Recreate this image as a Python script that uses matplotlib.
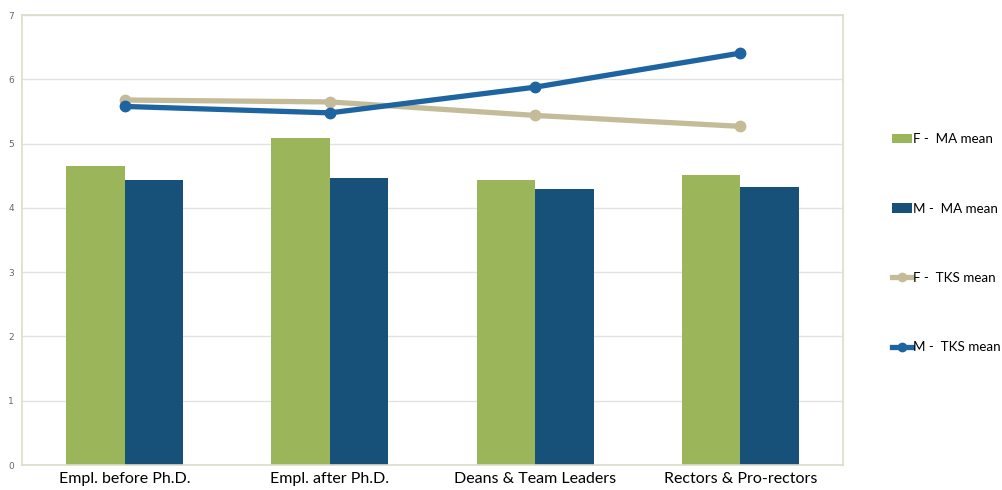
import matplotlib.pyplot as plt
import numpy as np

# ------  data  ------
categories = ['Empl. before Ph.D.', 'Empl. after Ph.D.', 'Deans & Team Leaders', 'Rectors & Pro-rectors']
f_ma = [4.65, 5.09, 4.43, 4.52]
m_ma = [4.44, 4.46, 4.29, 4.32]
f_tks = [5.68, 5.65, 5.44, 5.27]
m_tks = [5.58, 5.48, 5.88, 6.41]

green = '#9bb55a'
navy = '#17517a'
beige = '#c4bc98'
blue = '#1e64a0'

fig = plt.figure(figsize=(10.03, 4.9), dpi=100)
ax = fig.add_axes([0.022, 0.051, 0.8185, 0.918])

x = np.arange(len(categories))
w = 0.285
b1 = ax.bar(x - w / 2, f_ma, w, color=green, label='F -  MA mean', zorder=2)
b2 = ax.bar(x + w / 2, m_ma, w, color=navy, label='M -  MA mean', zorder=2)
l1, = ax.plot(x, f_tks, color=beige, lw=3.8, marker='o', ms=7.5, label='F -  TKS mean', zorder=3)
l2, = ax.plot(x, m_tks, color=blue, lw=3.8, marker='o', ms=7.5, label='M -  TKS mean', zorder=4)

ax.set_xlim(-0.5, 3.5)
ax.set_ylim(0, 7)
ax.set_yticks(range(8))
ax.tick_params(axis='y', length=0, labelsize=6.5, labelcolor='#666666', pad=6)
ax.tick_params(axis='x', length=0, labelsize=11.5, pad=5)
ax.set_xticks(x)
ax.set_xticklabels(categories, family='Lato')
ax.grid(axis='y', color='#e2e2e2', lw=1, zorder=0)
for s in ax.spines.values():
    s.set_color('#dcdccc')
    s.set_linewidth(1.2)

ax.legend([b1, b2, l1, l2], [b1.get_label(), b2.get_label(), l1.get_label(), l2.get_label()],
          loc='center left', bbox_to_anchor=(1.045, 0.493), frameon=False,
          labelspacing=4.3, handlelength=1.5, handletextpad=0.1, markerscale=0.8,
          prop={'family': 'Lato', 'size': 9.6})

fig.savefig('out.png', dpi=100)
